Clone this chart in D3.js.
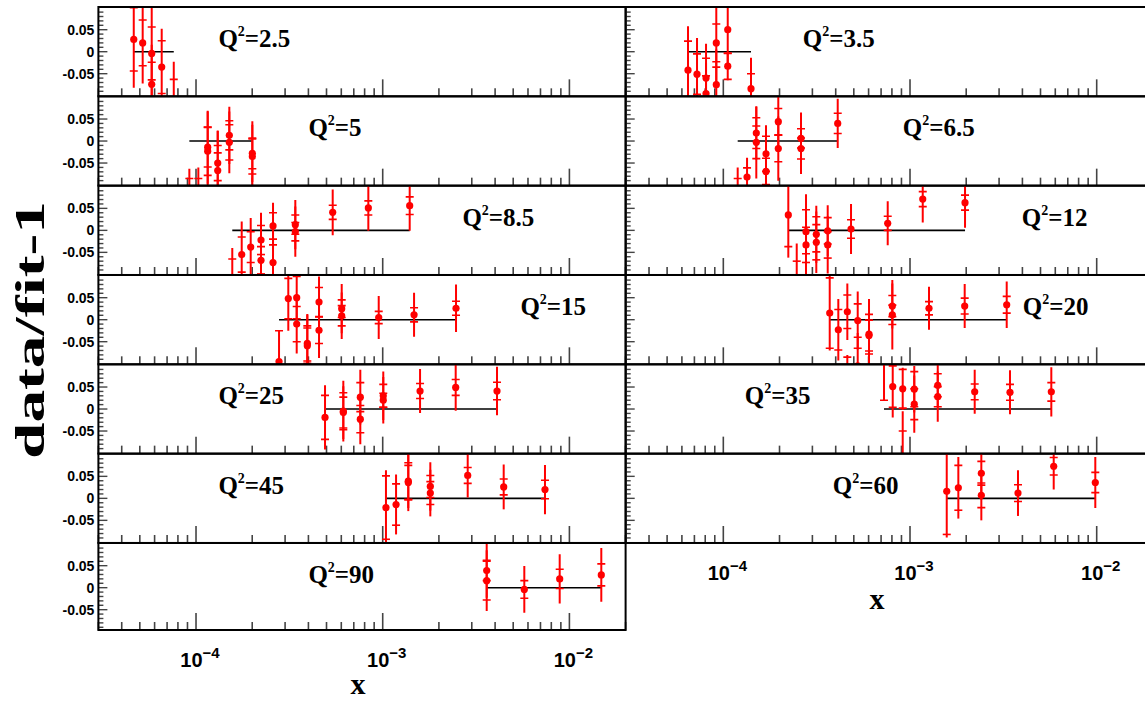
<!DOCTYPE html>
<html><head><meta charset="utf-8">
<script src="https://cdn.jsdelivr.net/npm/d3@7"></script>
<style>body{margin:0;background:#fff} svg{display:block}</style>
</head><body><svg id="c" width="1145" height="702"></svg>
<script>
// ---------------- data ----------------
const q2Labels = ["2.5","3.5","5","6.5","8.5","12","15","20","25","35","45","60","90"];

const xVals = [
 [4.64e-5,5.18e-5,5.79e-5,5.79e-5,6.55e-5,7.60e-5],
 [6.47e-5,7.23e-5,8.08e-5,8.08e-5,9.17e-5,9.17e-5,1.056e-4,1.056e-4,1.407e-4],
 [9.21e-5,1.029e-4,1.155e-4,1.155e-4,1.307e-4,1.307e-4,1.508e-4,1.508e-4,2.003e-4,2.003e-4],
 [1.194e-4,1.34e-4,1.502e-4,1.502e-4,1.693e-4,1.693e-4,1.97e-4,1.97e-4,2.607e-4,2.607e-4,4.1e-4],
 [1.564e-4,1.757e-4,1.963e-4,2.229e-4,2.229e-4,2.585e-4,2.585e-4,3.403e-4,3.403e-4,5.397e-4,8.375e-4,1.395e-3],
 [2.229e-4,2.473e-4,2.773e-4,2.773e-4,3.148e-4,3.148e-4,3.624e-4,3.624e-4,4.831e-4,7.596e-4,1.17e-3,1.971e-3],
 [2.784e-4,3.121e-4,3.462e-4,3.462e-4,3.946e-4,3.946e-4,4.559e-4,4.559e-4,6.031e-4,6.031e-4,9.52e-4,1.472e-3,2.47e-3],
 [3.715e-4,4.13e-4,4.616e-4,4.616e-4,5.247e-4,5.247e-4,6.031e-4,6.031e-4,8.04e-4,8.04e-4,1.264e-3,1.963e-3,3.296e-3],
 [4.909e-4,6.152e-4,6.152e-4,7.586e-4,7.586e-4,1.007e-3,1.007e-3,1.585e-3,2.46e-3,4.095e-3],
 [7.257e-4,8.08e-4,9.14e-4,9.14e-4,1.054e-3,1.054e-3,1.408e-3,1.408e-3,2.221e-3,3.432e-3,5.713e-3],
 [1.041e-3,1.179e-3,1.371e-3,1.371e-3,1.799e-3,1.799e-3,2.853e-3,4.447e-3,7.4e-3],
 [1.573e-3,1.815e-3,2.41e-3,2.41e-3,3.788e-3,5.885e-3,9.829e-3],
 [3.606e-3,3.606e-3,5.734e-3,8.872e-3,1.482e-2]
];
const yVals = [
 [0.028,0.020,-0.004,-0.074,-0.035,-0.110],
 [-0.042,-0.051,-0.060,-0.095,0.020,-0.075,0.050,-0.033,-0.084],
 [-0.115,-0.115,-0.014,-0.023,-0.050,-0.067,0.013,-0.003,-0.028,-0.035],
 [-0.115,-0.082,0.018,-0.003,-0.029,-0.069,0.044,-0.017,0.006,-0.017,0.040],
 [-0.110,-0.055,-0.038,-0.022,-0.068,0.010,-0.073,0.013,-0.003,0.041,0.051,0.056],
 [0.035,-0.110,-0.003,-0.033,-0.009,-0.027,-0.001,-0.033,0.003,0.016,0.071,0.063],
 [-0.095,0.048,0.050,-0.010,-0.054,-0.059,0.040,-0.024,0.025,0.009,0.005,0.011,0.026],
 [0.015,-0.023,0.018,-0.115,-0.002,-0.105,-0.033,-0.036,0.031,0.011,0.026,0.031,0.034],
 [-0.019,-0.005,-0.008,0.027,-0.023,0.030,0.020,0.041,0.049,0.041],
 [0.110,0.051,0.046,-0.115,0.045,0.011,0.054,0.028,0.039,0.038,0.039],
 [-0.021,-0.014,0.039,0.036,0.027,0.012,0.052,0.026,0.020],
 [0.016,0.024,0.057,0.007,0.012,0.073,0.036],
 [0.039,0.016,-0.004,0.020,0.029]
];
const statErr = [
 [0.072,0.052,0.060,0.050,0.060,0.047],
 [0.066,0.046,0.045,0.040,0.043,0.040,0.054,0.030,0.034],
 [0.030,0.030,0.045,0.055,0.040,0.040,0.033,0.040,0.035,0.040],
 [0.030,0.021,0.035,0.037,0.040,0.030,0.030,0.030,0.022,0.024,0.023],
 [0.045,0.040,0.035,0.033,0.031,0.030,0.040,0.022,0.021,0.016,0.016,0.020],
 [0.072,0.040,0.050,0.040,0.040,0.040,0.030,0.030,0.021,0.016,0.017,0.017],
 [0.070,0.046,0.048,0.040,0.040,0.040,0.033,0.030,0.020,0.023,0.014,0.016,0.016],
 [0.080,0.046,0.038,0.030,0.038,0.040,0.045,0.035,0.024,0.022,0.015,0.018,0.019],
 [0.050,0.042,0.035,0.033,0.031,0.026,0.016,0.017,0.018,0.020],
 [0.090,0.047,0.044,0.065,0.040,0.035,0.026,0.023,0.018,0.018,0.021],
 [0.072,0.047,0.042,0.039,0.025,0.026,0.018,0.018,0.021],
 [0.098,0.051,0.027,0.028,0.019,0.020,0.023],
 [0.023,0.044,0.020,0.022,0.025]
];
const totErr = [
 [0.110,0.092,0.120,0.090,0.087,0.087],
 [0.100,0.082,0.078,0.070,0.090,0.080,0.090,0.032,0.070],
 [0.052,0.055,0.083,0.090,0.074,0.090,0.065,0.070,0.065,0.080],
 [0.055,0.044,0.060,0.082,0.065,0.070,0.060,0.073,0.059,0.058,0.056],
 [0.070,0.075,0.066,0.062,0.060,0.053,0.070,0.056,0.057,0.052,0.052,0.057],
 [0.097,0.080,0.085,0.067,0.065,0.070,0.058,0.065,0.057,0.050,0.053,0.057],
 [0.070,0.073,0.060,0.067,0.067,0.070,0.058,0.063,0.056,0.053,0.049,0.050,0.054],
 [0.085,0.070,0.064,0.035,0.066,0.075,0.080,0.041,0.051,0.079,0.049,0.050,0.053],
 [0.073,0.069,0.060,0.062,0.057,0.055,0.053,0.050,0.053,0.055],
 [0.090,0.070,0.048,0.110,0.053,0.065,0.050,0.057,0.050,0.050,0.056],
 [0.085,0.068,0.061,0.065,0.055,0.053,0.050,0.051,0.056],
 [0.105,0.070,0.060,0.057,0.052,0.053,0.058],
 [0.062,0.069,0.053,0.056,0.061]
];
const xDomain = [3e-5, 0.02];
const yDomain = [-0.1, 0.1];
const yTickLabels = ["0.05","0","-0.05"];
const yTickLabelVals = [0.05, 0, -0.05];
const xTickLabelExp = ["−4","−3","−2"];
const xTickLabelVals = [1e-4, 1e-3, 1e-2];

// ---------------- layout ----------------
const svg = d3.select("#c");
const colLeft = [98.4, 625.7], colW = 527.2;
const rowTop0 = 7, rowH = 89.33, bottomLeft = 630;
const labelDX = [120,177,210,277,364,396,422,397,120,119,120,207,210];
const serif = "'Liberation Serif','Times New Roman',serif";
const sans = "'Liberation Sans',Arial,Helvetica,sans-serif";

const defs = svg.append("defs");

q2Labels.forEach((lab, i) => {
  const col = i % 2, row = Math.floor(i / 2);
  const top = rowTop0 + row * rowH;
  const zero = top + 44.7;
  const bottom = (row === 6) ? bottomLeft : top + rowH;
  const left = colLeft[col];
  const x = d3.scaleLog().domain(xDomain).range([left, left + colW]);
  const y = d3.scaleLinear().domain(yDomain).range([zero + 44, zero - 44]);
  const g = svg.append("g");

  defs.append("clipPath").attr("id", "cp" + i)
    .append("rect").attr("x", left).attr("y", top).attr("width", colW).attr("height", bottom - top);

  // x ticks at bottom
  const xt = x.ticks();
  g.selectAll("line.xt").data(xt).enter().append("line")
    .attr("x1", d => x(d)).attr("x2", d => x(d))
    .attr("y1", bottom).attr("y2", d => bottom - (Math.abs(Math.log10(d) - Math.round(Math.log10(d))) < 1e-6 ? 17 : 8))
    .attr("stroke", "#444").attr("stroke-width", 1.6);

  // y ticks at left
  const yt = d3.range(-10, 11).map(k => k / 100);
  g.selectAll("line.yt").data(yt.filter(d => y(d) > top + 1 && y(d) < bottom - 1)).enter().append("line")
    .attr("x1", left).attr("x2", d => left + (Math.abs(d * 20 - Math.round(d * 20)) < 1e-6 ? 9 : 5))
    .attr("y1", d => y(d)).attr("y2", d => y(d))
    .attr("stroke", "#444").attr("stroke-width", 1.4);

  // y labels (left column only)
  if (col === 0) {
    g.selectAll("text.yl").data(yTickLabelVals).enter().append("text")
      .attr("x", left - 4).attr("y", d => y(d) + 5)
      .attr("text-anchor", "end").attr("font-family", sans).attr("font-weight", "bold")
      .attr("font-size", 14).text((d, k) => yTickLabels[k]);
  }

  // data
  const pts = xVals[i].map((xv, k) => ({x: xv, y: yVals[i][k], s: statErr[i][k], t: totErr[i][k]}));
  const dg = g.append("g").attr("clip-path", "url(#cp" + i + ")");
  const xe = d3.extent(xVals[i]);
  dg.append("line").attr("x1", x(xe[0])).attr("x2", x(xe[1]))
    .attr("y1", y(0)).attr("y2", y(0)).attr("stroke", "#000").attr("stroke-width", 1.6);
  dg.selectAll("line.tot").data(pts).enter().append("line")
    .attr("x1", d => x(d.x)).attr("x2", d => x(d.x))
    .attr("y1", d => y(d.y - d.t)).attr("y2", d => y(d.y + d.t))
    .attr("stroke", "#ff0000").attr("stroke-width", 2);
  pts.forEach(d => {
    [d.y - d.s, d.y + d.s].forEach(v => {
      dg.append("line").attr("x1", x(d.x) - 4).attr("x2", x(d.x) + 4)
        .attr("y1", y(v)).attr("y2", y(v)).attr("stroke", "#ff0000").attr("stroke-width", 1.6);
    });
  });
  dg.selectAll("circle").data(pts).enter().append("circle")
    .attr("cx", d => x(d.x)).attr("cy", d => y(d.y)).attr("r", 3.6).attr("fill", "#ff0000");

  // frame
  g.append("rect").attr("x", left).attr("y", top).attr("width", colW).attr("height", bottom - top)
    .attr("fill", "none").attr("stroke", "#000").attr("stroke-width", 2);

  // label
  const t = g.append("text").attr("x", left + labelDX[i]).attr("y", top + 40)
    .attr("font-family", serif).attr("font-weight", "bold").attr("font-size", 25);
  t.append("tspan").text("Q");
  t.append("tspan").attr("dy", -11).attr("font-size", 14).text("2");
  t.append("tspan").attr("dy", 11).text("=" + lab);

  // x axis labels under last panel of each column
  const isLast = (col === 0 && row === 6) || (col === 1 && row === 5);
  if (isLast) {
    xTickLabelVals.forEach((v, k) => {
      const tx = svg.append("text").attr("x", x(v) + 4).attr("y", bottom + 37)
        .attr("text-anchor", "middle").attr("font-family", sans).attr("font-weight", "bold").attr("font-size", 20);
      tx.append("tspan").text("10");
      tx.append("tspan").attr("dy", -9).attr("font-size", 15).text(xTickLabelExp[k]);
    });
    svg.append("text").attr("x", col === 0 ? 358 : 877).attr("y", col === 0 ? 694 : bottom + 66)
      .attr("text-anchor", "middle").attr("font-family", serif).attr("font-weight", "bold")
      .attr("font-size", 30).text("x");
  }
});

// y title
svg.append("text").attr("transform", "translate(44,330) rotate(-90)")
  .attr("text-anchor", "middle").attr("font-family", serif).attr("font-weight", "bold")
  .attr("font-size", 42).attr("textLength", 258).attr("lengthAdjust", "spacingAndGlyphs")
  .text("data/fit-1");
</script></body></html>
